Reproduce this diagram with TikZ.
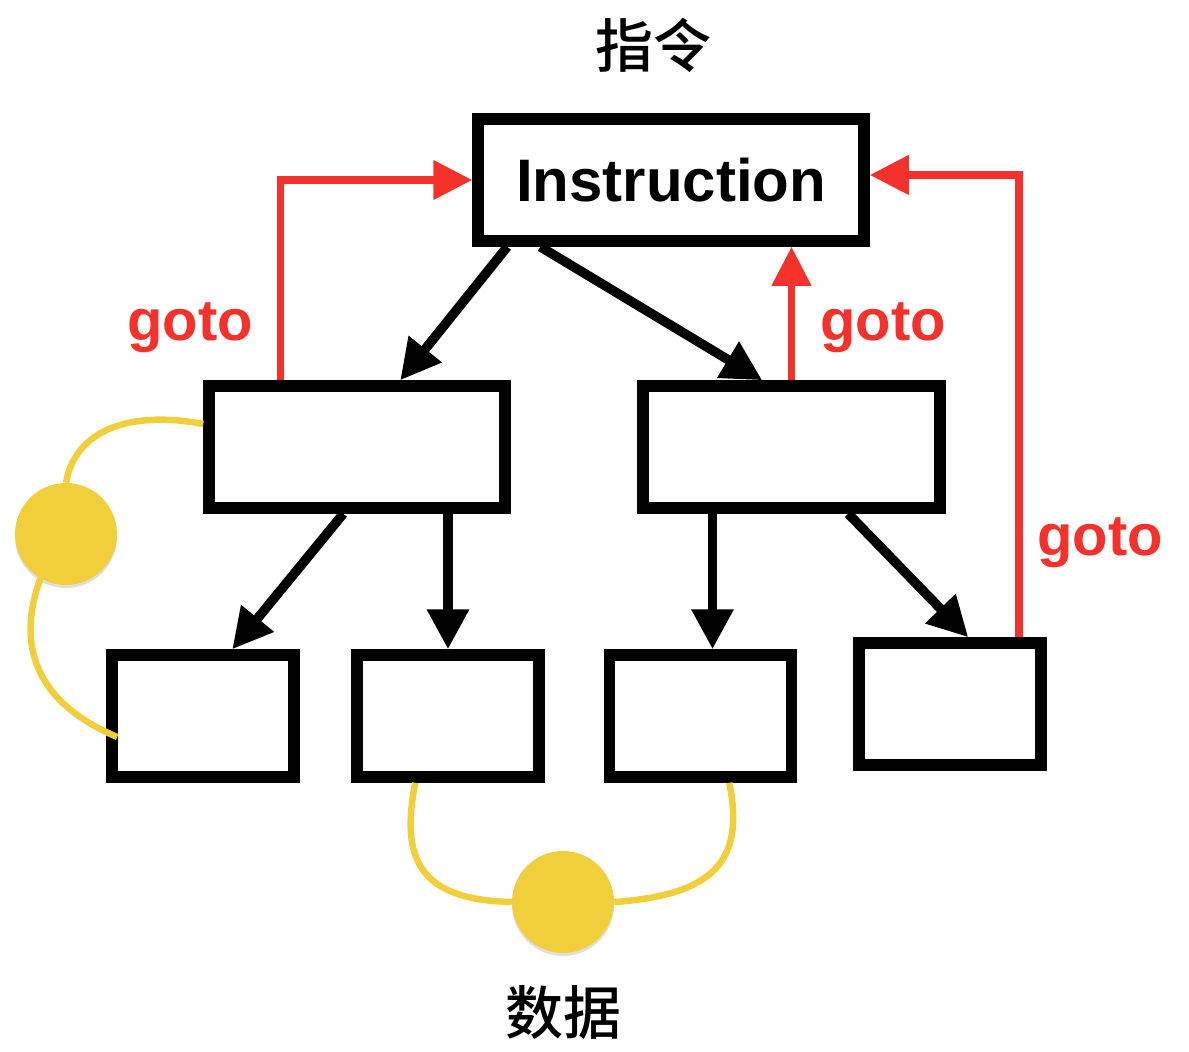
\documentclass[tikz,border=0pt]{standalone}
\usepackage{fontspec}
\setmainfont{Liberation Sans}
\newfontfamily\cjk{Noto Sans CJK SC Medium}
\usetikzlibrary{arrows.meta,shadows}
\definecolor{gotored}{HTML}{F4312B}
\definecolor{datayellow}{HTML}{F1CF3C}

\begin{document}
\begin{tikzpicture}[x=1pt,y=-1pt,
  box/.style={draw,line width=11.5pt,minimum width=#1,minimum height=122pt,inner sep=0pt},
  box/.default=182pt,
  flow/.style={line width=9.5pt,-{Triangle[length=40pt,width=40pt]}},
  jump/.style={draw=gotored,line width=7.5pt,-{Triangle[length=39pt,width=38pt]},color=gotored},
  link/.style={draw=datayellow,line width=6.5pt},
  blob/.style={circle,fill=datayellow,minimum size=102pt,inner sep=0pt,
    drop shadow={shadow xshift=0pt,shadow yshift=-3pt,opacity=0.25}},
  gotolabel/.style={anchor=base,text=gotored,font=\fontsize{58}{60}\selectfont\bfseries},
  title/.style={font=\cjk\fontsize{58}{60}\selectfont}]
\useasboundingbox (0,0) rectangle (1189,1052);

\node[title] (zhiling) at (653,45) {指令};
\node[title] (shuju) at (563,1013) {数据};

\node[box=386pt,font=\fontsize{60}{64}\selectfont\bfseries] (ins) at (671,180) {Instruction};
\node[box=296pt] (lmid) at (357,447) {};
\node[box=297pt] (rmid) at (791.5,447) {};
\node[box] (b1) at (203,716) {};
\node[box] (b2) at (448,716) {};
\node[box] (b3) at (700.5,716) {};
\node[box] (b4) at (950,704) {};

\node[blob] (ldot) at (66,534) {};
\node[blob] (bdot) at (563,902) {};

\draw[flow] ([xshift=35pt]ins.south west) -- ([xshift=197pt]lmid.north west);
\draw[flow] ([xshift=68pt]ins.south west) -- ([xshift=125pt]rmid.north west);
\draw[flow] ([xshift=140pt]lmid.south west) -- ([xshift=126pt]b1.north west);
\draw[flow] (b2.north |- lmid.south) -- (b2.north);
\draw[flow] ([xshift=12pt]b3.north |- rmid.south) -- ([xshift=12pt]b3.north);
\draw[flow] ([xshift=211pt]rmid.south west) -- ([xshift=115pt]b4.north west);

\draw[jump] ([xshift=77pt]lmid.north west) |- (ins.west);
\draw[jump] (rmid.north) -- (rmid.north |- ins.south);
\draw[jump] ([xshift=-28pt]b4.north east) |- ([yshift=5pt]ins.east);

\node[gotolabel] (goto1) at (190,340) {goto};
\node[gotolabel] (goto2) at (883,340) {goto};
\node[gotolabel] (goto3) at (1100,555) {goto};

\draw[link] ([yshift=23pt]lmid.west) .. controls (130,410) and (75,430) .. (ldot.north);
\draw[link] (ldot.-120) .. controls (18,640) and (30,700) .. ([yshift=-21pt,xshift=11pt]b1.west);
\draw[link] ([xshift=64pt]b2.south west) .. controls (400,860) and (420,900) .. (bdot.west);
\draw[link] ([xshift=-68pt]b3.south east) .. controls (745,860) and (715,895) .. (bdot.east);
\end{tikzpicture}
\end{document}
